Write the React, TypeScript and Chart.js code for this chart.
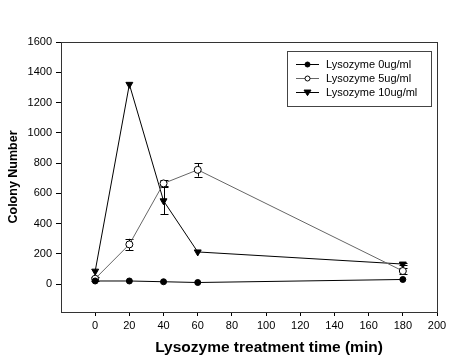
import React, { useEffect, useRef } from "react";
import { Chart, registerables } from "chart.js";

Chart.register(...registerables);

const times = [0, 20, 40, 60, 180];
const xTicks = [0, 20, 40, 60, 80, 100, 120, 140, 160, 180, 200];
const yTicks = [0, 200, 400, 600, 800, 1000, 1200, 1400, 1600];

const lyso0 = [20, 20, 15, 10, 30];
const lyso0Err = [0, 0, 0, 0, 0];
const lyso5 = [35, 262, 665, 755, 86];
const lyso5Err = [12, 37, 20, 45, 20];
const lyso10 = [85, 1320, 550, 212, 132];
const lyso10Err = [0, 0, 90, 0, 8];

const seriesLabels = ["Lysozyme 0ug/ml", "Lysozyme 5ug/ml", "Lysozyme 10ug/ml"];
const xTitle = "Lysozyme treatment time (min)";
const yTitle = "Colony Number";
const FONT = "'Liberation Sans', Arial, sans-serif";

const errorBarPlugin = {
  id: "errorBars",
  beforeDatasetsDraw(chart: any) {
    const { ctx, scales } = chart;
    const xs = scales.x;
    const ys = scales.y;
    const errs = [lyso0Err, lyso5Err, lyso10Err];
    const vals = [lyso0, lyso5, lyso10];
    ctx.save();
    ctx.strokeStyle = "#000";
    ctx.lineWidth = 1;
    errs.forEach((errArr, di) => {
      errArr.forEach((e, i) => {
        if (!e) return;
        const px = Math.round(xs.getPixelForValue(times[i])) + 0.5;
        const top = ys.getPixelForValue(vals[di][i] + e);
        const bot = ys.getPixelForValue(vals[di][i] - e);
        ctx.beginPath();
        ctx.moveTo(px, top);
        ctx.lineTo(px, bot);
        ctx.moveTo(px - 4, Math.round(top) + 0.5);
        ctx.lineTo(px + 4, Math.round(top) + 0.5);
        ctx.moveTo(px - 4, Math.round(bot) + 0.5);
        ctx.lineTo(px + 4, Math.round(bot) + 0.5);
        ctx.stroke();
      });
    });
    ctx.restore();
  },
};

const framePlugin = {
  id: "frame",
  beforeDatasetsDraw(chart: any) {
    const { ctx, chartArea } = chart;
    ctx.save();
    ctx.strokeStyle = "#333";
    ctx.lineWidth = 1;
    const l = Math.round(chartArea.left) + 0.5;
    const t = Math.round(chartArea.top) + 0.5;
    const r = Math.round(chartArea.right) + 0.5;
    const b = Math.round(chartArea.bottom) + 0.5;
    ctx.strokeRect(l, t, r - l, b - t);
    ctx.fillStyle = "#000";
    ctx.font = `bold 15.5px ${FONT}`;
    ctx.textAlign = "center";
    ctx.textBaseline = "middle";
    ctx.fillText(xTitle, 269, 348);
    ctx.restore();
  },
};

const legendPlugin = {
  id: "boxLegend",
  afterDatasetsDraw(chart: any) {
    const { ctx } = chart;
    const boxL = 287.5, boxT = 51.5, boxR = 431.5, boxB = 106.5;
    ctx.save();
    ctx.fillStyle = "#fff";
    ctx.fillRect(boxL, boxT, boxR - boxL, boxB - boxT);
    ctx.strokeStyle = "#444";
    ctx.lineWidth = 1;
    ctx.strokeRect(boxL, boxT, boxR - boxL, boxB - boxT);
    chart.data.datasets.forEach((ds: any, i: number) => {
      const y = 64.5 + i * 14;
      ctx.strokeStyle = ds.borderColor;
      ctx.lineWidth = 1;
      ctx.beginPath();
      ctx.moveTo(296, y);
      ctx.lineTo(319, y);
      ctx.stroke();
      const style = ds.pointStyle;
      ctx.fillStyle = ds.pointBackgroundColor;
      ctx.strokeStyle = ds.pointBorderColor;
      ctx.beginPath();
      if (style === "triangle") {
        const s = 3.5;
        ctx.moveTo(307.5 - s, y - s * 0.7);
        ctx.lineTo(307.5 + s, y - s * 0.7);
        ctx.lineTo(307.5, y + s * 0.9);
        ctx.closePath();
      } else {
        ctx.arc(307.5, y, 2.5, 0, Math.PI * 2);
      }
      ctx.fill();
      ctx.stroke();
      ctx.fillStyle = "#000";
      ctx.font = `11px ${FONT}`;
      ctx.textBaseline = "middle";
      ctx.textAlign = "left";
      ctx.fillText(ds.label, 326, y + 0.5);
    });
    ctx.restore();
  },
};

export default function App() {
  const ref = useRef<HTMLCanvasElement>(null);
  useEffect(() => {
    document.body.style.margin = "0";
    const toXY = (arr: number[]) => arr.map((v, i) => ({ x: times[i], y: v }));
    const chart = new Chart(ref.current!, {
      type: "line",
      data: {
        datasets: [
          {
            label: seriesLabels[0],
            data: toXY(lyso0),
            borderColor: "#000",
            borderWidth: 1,
            pointStyle: "circle",
            pointRadius: 3,
            pointBackgroundColor: "#000",
            pointBorderColor: "#000",
            pointBorderWidth: 1,
          },
          {
            label: seriesLabels[1],
            data: toXY(lyso5),
            borderColor: "#666",
            borderWidth: 1,
            pointStyle: "circle",
            pointRadius: 3.5,
            pointBackgroundColor: "#fff",
            pointBorderColor: "#000",
            pointBorderWidth: 1,
          },
          {
            label: seriesLabels[2],
            data: toXY(lyso10),
            borderColor: "#000",
            borderWidth: 1,
            pointStyle: "triangle",
            pointRotation: 180,
            pointRadius: 4,
            pointBackgroundColor: "#000",
            pointBorderColor: "#000",
            pointBorderWidth: 1,
          },
        ],
      },
      options: {
        animation: false,
        responsive: false,
        events: [],
        layout: { padding: { top: 42, right: 23, left: 0, bottom: 0 } },
        plugins: { legend: { display: false }, tooltip: { enabled: false } },
        scales: {
          x: {
            type: "linear",
            min: -20,
            max: 200,
            afterBuildTicks: (s: any) => {
              s.ticks = xTicks.map((v) => ({ value: v }));
            },
            afterFit: (s: any) => {
              s.height = 49;
            },
            grid: { display: true, drawOnChartArea: false, drawTicks: true, tickLength: 4, color: "#000" },
            border: { display: false },
            ticks: {
              color: "#000",
              padding: 3,
              font: { family: FONT, size: 11 },
              maxRotation: 0,
              autoSkip: false,
              callback: (v: any) => String(v),
            },
          },
          y: {
            type: "linear",
            min: -185,
            max: 1600,
            afterBuildTicks: (s: any) => {
              s.ticks = yTicks.map((v) => ({ value: v }));
            },
            afterFit: (s: any) => {
              s.width = 61;
            },
            grid: { display: true, drawOnChartArea: false, drawTicks: true, tickLength: 5, color: "#000" },
            border: { display: false },
            ticks: {
              color: "#000",
              padding: 4,
              font: { family: FONT, size: 11 },
              autoSkip: false,
              callback: (v: any) => String(v),
            },
            title: {
              display: true,
              text: yTitle,
              color: "#000",
              font: { family: FONT, size: 12.5, weight: "bold" },
              padding: { top: 6, bottom: 0 },
            },
          },
        },
      },
      plugins: [framePlugin, errorBarPlugin, legendPlugin],
    } as any);
    return () => chart.destroy();
  }, []);
  return <canvas ref={ref} width={460} height={361} style={{ display: "block" }} />;
}
